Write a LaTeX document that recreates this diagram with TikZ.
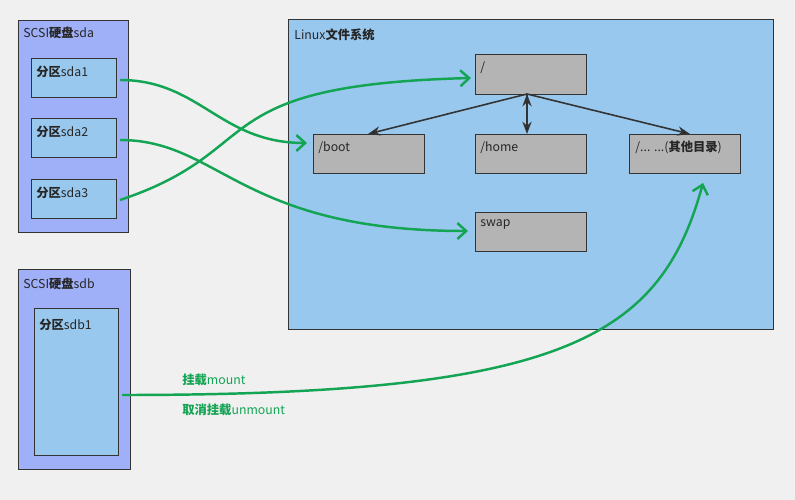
\documentclass[tikz,border=0pt]{standalone}
\usepackage{fontspec}
\setmainfont{Noto Sans CJK SC}
\usetikzlibrary{arrows.meta}
\definecolor{diskblue}{HTML}{9FB0F8}
\definecolor{partblue}{HTML}{99C8EE}
\definecolor{dirgray}{HTML}{B4B4B4}
\definecolor{mountgreen}{HTML}{13A454}
\definecolor{bgcol}{HTML}{F0F0F0}
\tikzset{
  box/.style={draw=black!80, line width=0.8pt, anchor=north west, inner sep=0pt},
  lbl/.style={anchor=north west, font=\scriptsize, inner sep=0pt, text=black!85},
  mnt/.style={->, >={Straight Barb[length=5pt,width=9pt]}, draw=mountgreen, line width=1.4pt},
  tree/.style={->, >=Stealth, draw=black!80, line width=0.9pt}
}
\begin{document}
\begin{tikzpicture}[x=0.02cm,y=-0.02cm]
                    \fill [bgcol] (0,0) rectangle (795,500);
                    \useasboundingbox (0,0) rectangle (795,500);

                    % disk sda
                    \node (sda) at (18,20) [box, fill=diskblue, minimum width=2.2cm, minimum height=4.24cm] {};
                    \node (sdaone) at (31,58) [box, fill=partblue, minimum width=1.7cm, minimum height=0.78cm] {};
                    \node (sdatwo) at (31,118) [box, fill=partblue, minimum width=1.7cm, minimum height=0.78cm] {};
                    \node (sdathree) at (31,179) [box, fill=partblue, minimum width=1.7cm, minimum height=0.78cm] {};

                    % disk sdb
                    \node (sdb) at (18,269) [box, fill=diskblue, minimum width=2.24cm, minimum height=4cm] {};
                    \node (sdbone) at (34,308) [box, fill=partblue, minimum width=1.68cm, minimum height=2.94cm] {};

                    % linux fs
                    \node (fs) at (288,19) [box, fill=partblue, minimum width=9.7cm, minimum height=6.2cm] {};
                    \node (root) at (475,54) [box, fill=dirgray, minimum width=2.22cm, minimum height=0.8cm] {};
                    \node (boot) at (313,134) [box, fill=dirgray, minimum width=2.22cm, minimum height=0.78cm] {};
                    \node (home) at (475,134) [box, fill=dirgray, minimum width=2.22cm, minimum height=0.78cm] {};
                    \node (other) at (629,134) [box, fill=dirgray, minimum width=2.22cm, minimum height=0.78cm] {};
                    \node (swap) at (475,212) [box, fill=dirgray, minimum width=2.22cm, minimum height=0.78cm] {};

                    \node (rootb) [coordinate] at (527,94) {};
                    \path [tree]
                        (rootb) edge (368,134)
                        (rootb) edge (527,134)
                        (rootb) edge (690,134)
                    ;

                    \node (sdaoneout) [coordinate] at (120,80) {};
                    \node (sdatwoout) [coordinate] at (120,140) {};
                    \node (sdathreeout) [coordinate] at (120,200) {};
                    \node (sdboneout) [coordinate] at (122,395) {};
                    \node (bootin) [coordinate] at (307,143) {};
                    \node (swapin) [coordinate] at (468,231) {};
                    \node (rootin) [coordinate] at (471,78) {};
                    \node (otherin) [coordinate] at (703,183) {};
                    \draw [mnt] (sdaoneout) .. controls (200,80) and (220,143) .. (bootin);
                    \draw [mnt] (sdatwoout) .. controls (220,140) and (240,231) .. (swapin);
                    \draw [mnt] (sdathreeout) .. controls (270,150) and (200,85) .. (rootin);
                    \draw [mnt] (sdboneout) .. controls (560,395) and (660,340) .. (otherin);

                    \node [lbl] at (23,27) {SCSI\textbf{硬盘}sda};
                    \node [lbl] at (36,66) {\textbf{分区}sda1};
                    \node [lbl] at (36,126) {\textbf{分区}sda2};
                    \node [lbl] at (36,187) {\textbf{分区}sda3};
                    \node [lbl] at (23,278) {SCSI\textbf{硬盘}sdb};
                    \node [lbl] at (39,319) {\textbf{分区}sdb1};
                    \node [lbl] at (294,28) {Linux\textbf{文件系统}};
                    \node [lbl] at (480,61) {/};
                    \node [lbl] at (318,141) {/boot};
                    \node [lbl] at (480,141) {/home};
                    \node [lbl] at (635,141) {/... ...(\textbf{其他目录})};
                    \node [lbl] at (480,219) {swap};
                    \node [lbl, text=mountgreen] at (182,374) {\textbf{挂载}mount};
                    \node [lbl, text=mountgreen] at (182,404) {\textbf{取消挂载}unmount};
\end{tikzpicture}
\end{document}
